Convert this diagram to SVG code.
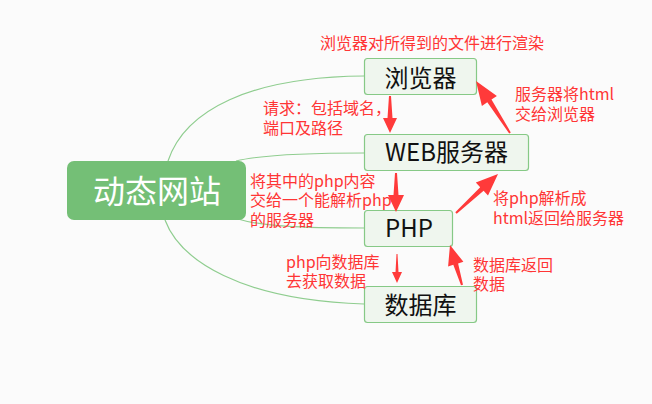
<svg xmlns="http://www.w3.org/2000/svg" width="652" height="404" viewBox="0 0 652 404">
<style>
.bg{fill:#fbfbfb}
.node rect{fill:#eff6ee;stroke:#86c986;stroke-width:1.2}
.node text{font-family:"Noto Sans CJK SC","Microsoft YaHei",sans-serif;font-size:24px;fill:#111;text-anchor:middle}
.root rect{fill:#74bf76}
.root text{font-family:"Noto Sans CJK SC",sans-serif;font-size:32px;fill:#fff;text-anchor:middle}
.conn path{fill:none;stroke:#8fcd8f;stroke-width:1.2}
.arrow{fill:#ff3a3a}
.lbl{font-family:"Noto Sans CJK SC",sans-serif;font-size:16px;fill:#ff3535}
</style>
<rect class="bg" x="0" y="0" width="652" height="404"/>
<g id="connectors" class="conn">
<path d="M168,161 C185,110 250,77 364,76"/>
<path d="M236,161 C260,155 300,153 364,153"/>
<path d="M238,219 C260,226 300,228 364,228"/>
<path d="M165,220 C180,260 240,300 364,304"/>
</g>
<g id="root" class="root">
<rect x="67" y="161" width="179" height="59" rx="7"/>
<text x="157" y="203">动态网站</text>
</g>
<g id="browser" class="node">
<rect x="364.5" y="58.5" width="112" height="36" rx="3"/>
<text x="420.5" y="87">浏览器</text>
</g>
<g id="web" class="node">
<rect x="364.5" y="134.5" width="164" height="36" rx="3"/>
<text x="446.5" y="161">WEB服务器</text>
</g>
<g id="php" class="node">
<rect x="364.5" y="210.5" width="88" height="36" rx="3"/>
<text x="409" y="237">PHP</text>
</g>
<g id="db" class="node">
<rect x="364.5" y="286.5" width="112" height="36" rx="3"/>
<text x="420.5" y="314">数据库</text>
</g>
<g id="arrows" class="arrow">
<polygon points="389,96 391,96 392.5,118 397,118 390,133 383,118 387.5,118"/>
<polygon points="395,173 397,173 398.5,195 404,195 396,212 388,195 393.5,195"/>
<polygon points="396.5,254 397.5,254 398.5,272 402,272 397,283 392,272 395.5,272"/>
<polygon points="463,284.7 458.1,263.4 463.4,261.8 450,245 448.1,266.4 453.3,264.8 461,285.3"/>
<polygon points="456.7,213.7 483.6,190.8 488,195.6 498,174 475.8,182.4 480.2,187.2 455.3,212.3"/>
<polygon points="510.8,132.4 491.5,99.5 496.9,95.9 476,81 481.9,105.9 487.3,102.3 509.2,133.6"/>
</g>
<g id="labels" class="lbl">
<text x="320" y="49">浏览器对所得到的文件进行渲染</text>
<text x="263" y="114">请求：包括域名，</text>
<text x="263" y="134">端口及路径</text>
<text x="515" y="100">服务器将html</text>
<text x="515" y="120">交给浏览器</text>
<text x="250" y="187">将其中的php内容</text>
<text x="250" y="206">交给一个能解析php</text>
<text x="250" y="226">的服务器</text>
<text x="493" y="204">将php解析成</text>
<text x="493" y="224">html返回给服务器</text>
<text x="286" y="268">php向数据库</text>
<text x="286" y="287">去获取数据</text>
<text x="473" y="271">数据库返回</text>
<text x="473" y="290">数据</text>
</g>
</svg>
